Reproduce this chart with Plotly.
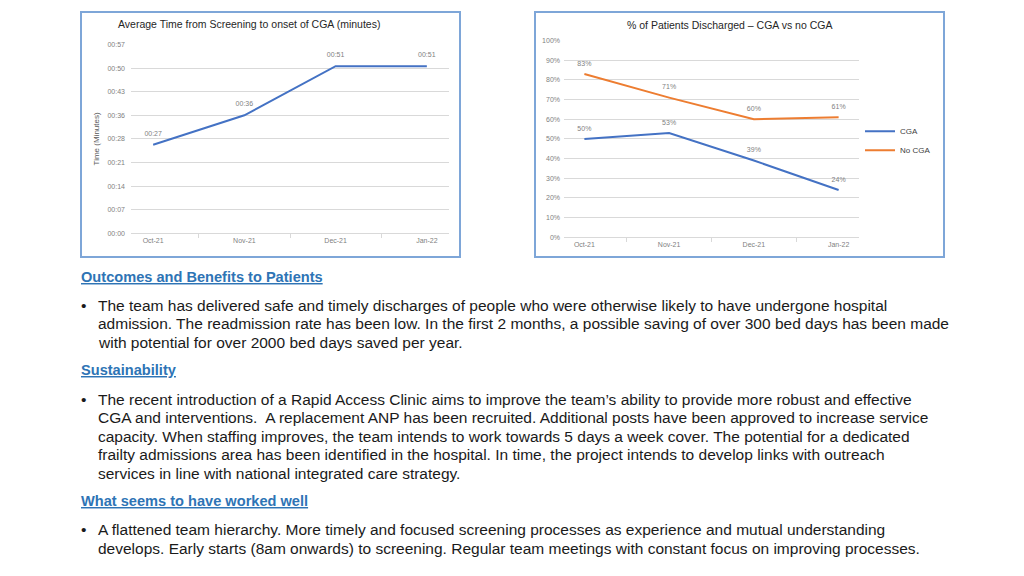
import plotly.graph_objects as go

months = ["Oct-21", "Nov-21", "Dec-21", "Jan-22"]
avg_minutes = [27, 36, 51, 51]
avg_labels = ["00:27", "00:36", "00:51", "00:51"]
time_tick_vals = [0, 7.2, 14.4, 21.6, 28.8, 36, 43.2, 50.4, 57.6]
time_tick_text = ["00:00", "00:07", "00:14", "00:21", "00:28", "00:36", "00:43", "00:50", "00:57"]

cga = [50, 53, 39, 24]
no_cga = [83, 71, 60, 61]
pct_ticks = [0, 10, 20, 30, 40, 50, 60, 70, 80, 90, 100]

# page body has an 8px margin; figure is sized to fit the window
OFF = 8
W, H = 1024 - 2 * OFF, 576 - 2 * OFF
def px(x):
    return (x - OFF) / W
def py(y):
    return 1 - (y - OFF) / H

BLUE = "#4472C4"
ORANGE = "#ED7D31"
GRID = "#D9D9D9"
TICK = "#7F7F7F"
LABEL = "#7F7F7F"
LBL_FONT = dict(size=7, color=LABEL, family="Liberation Sans")
INVIS = dict(size=10, color="rgba(0,0,0,0)")

fig = go.Figure()

fig.add_trace(go.Scatter(
    x=months, y=avg_minutes, mode="lines+markers+text", text=avg_labels,
    textposition="top center", textfont=LBL_FONT, marker=INVIS,
    line=dict(color=BLUE, width=2), xaxis="x", yaxis="y", showlegend=False,
    cliponaxis=False, hoverinfo="skip"))

fig.add_trace(go.Scatter(
    x=months, y=cga, mode="lines+markers+text", text=[f"{v}%" for v in cga],
    textposition="top center", textfont=LBL_FONT, marker=dict(size=9, color="rgba(0,0,0,0)"),
    line=dict(color=BLUE, width=2), xaxis="x2", yaxis="y2", name="CGA",
    cliponaxis=False))
fig.add_trace(go.Scatter(
    x=months, y=no_cga, mode="lines+markers+text", text=[f"{v}%" for v in no_cga],
    textposition="top center", textfont=LBL_FONT, marker=dict(size=9, color="rgba(0,0,0,0)"),
    line=dict(color=ORANGE, width=2), xaxis="x2", yaxis="y2", name="No CGA",
    cliponaxis=False))

tickfont = dict(size=7, color=TICK, family="Liberation Sans")

fig.update_layout(
    width=W, height=H, margin=dict(l=0, r=0, t=0, b=0),
    paper_bgcolor="white", plot_bgcolor="white",
    font=dict(family="Liberation Sans"),
    xaxis=dict(domain=[px(131), px(449)], anchor="y", type="category",
               showgrid=False, ticks="outside", tickson="boundaries", ticklen=4,
               tickcolor=GRID, showline=True, linecolor=GRID, zeroline=False,
               tickfont=tickfont),
    yaxis=dict(domain=[py(232), py(41)], anchor="x", range=[0, 57.6],
               tickvals=time_tick_vals, ticktext=time_tick_text,
               showgrid=True, gridcolor=GRID, gridwidth=1, showline=False, zeroline=False,
               tickfont=tickfont, ticklabelstandoff=5,
               title=dict(text="Time (Minutes)", font=dict(size=8, color="#595959"), standoff=6)),
    xaxis2=dict(domain=[px(564), px(859)], anchor="y2", type="category",
                showgrid=False, ticks="outside", tickson="boundaries", ticklen=4,
                tickcolor=GRID, showline=True, linecolor=GRID, zeroline=False,
                tickfont=tickfont),
    yaxis2=dict(domain=[py(236), py(37)], anchor="x2", range=[0, 100],
                tickvals=pct_ticks, ticktext=[f"{v}%" for v in pct_ticks],
                showgrid=True, gridcolor=GRID, gridwidth=1, showline=False, zeroline=False,
                tickfont=tickfont, ticklabelstandoff=3),
    legend=dict(x=px(860), y=py(114), xanchor="left", yanchor="top",
                font=dict(size=8, color="#404040"), bgcolor="rgba(0,0,0,0)",
                tracegroupgap=2),
)

# chart frames
for x0, y0, x1, y1 in [(81, 8, 460, 256), (535, 8, 944, 256)]:
    fig.add_shape(type="rect", xref="paper", yref="paper",
                  x0=px(x0), x1=px(x1), y0=py(y0), y1=py(y1),
                  line=dict(color="#7EA6D8", width=2), fillcolor="rgba(0,0,0,0)")

fig.add_annotation(text="Average Time from Screening to onset of CGA (minutes)",
                   x=px(249), y=py(20), xref="paper", yref="paper", showarrow=False,
                   xanchor="center", yanchor="middle",
                   font=dict(size=10.5, color="#262626", family="Liberation Sans"))
fig.add_annotation(text="% of Patients Discharged \u2013 CGA vs no CGA",
                   x=px(729), y=py(21), xref="paper", yref="paper", showarrow=False,
                   xanchor="center", yanchor="middle",
                   font=dict(size=10.5, color="#262626", family="Liberation Sans"))

HEAD = "#2E74B5"
TXT = "#1A1A1A"
FONT = "Liberation Sans"
FS = 15.5

headings = [
    (276, "Outcomes and Benefits to Patients"),
    (371, "Sustainability"),
    (503, "What seems to have worked well"),
]
for y, t in headings:
    fig.add_annotation(text=f"<b><u>{t}</u></b>", x=px(79), y=py(y), xref="paper", yref="paper",
                       xanchor="left", yanchor="middle", showarrow=False,
                       font=dict(size=14.6, color=HEAD, family=FONT))

paragraphs = [
    (305, ["The team has delivered safe and timely discharges of people who were otherwise likely to have undergone hospital",
           "admission. The readmission rate has been low. In the first 2 months, a possible saving of over 300 bed days has been made",
           "with potential for over 2000 bed days saved per year."]),
    (400, ["The recent introduction of a Rapid Access Clinic aims to improve the team\u2019s ability to provide more robust and effective",
           "CGA and interventions.  A replacement ANP has been recruited. Additional posts have been approved to increase service",
           "capacity. When staffing improves, the team intends to work towards 5 days a week cover. The potential for a dedicated",
           "frailty admissions area has been identified in the hospital. In time, the project intends to develop links with outreach",
           "services in line with national integrated care strategy."]),
    (532, ["A flattened team hierarchy. More timely and focused screening processes as experience and mutual understanding",
           "develops. Early starts (8am onwards) to screening. Regular team meetings with constant focus on improving processes."]),
]
LH = 18.8
for y0, lines in paragraphs:
    fig.add_annotation(text="\u2022", x=px(79), y=py(y0), xref="paper", yref="paper",
                       xanchor="left", yanchor="middle", showarrow=False,
                       font=dict(size=FS, color=TXT, family=FONT))
    for i, line in enumerate(lines):
        fig.add_annotation(text=line, x=px(96), y=py(y0 + i * LH), xref="paper", yref="paper",
                           xanchor="left", yanchor="middle", showarrow=False,
                           font=dict(size=FS, color=TXT, family=FONT))

fig.write_html("out.html")
